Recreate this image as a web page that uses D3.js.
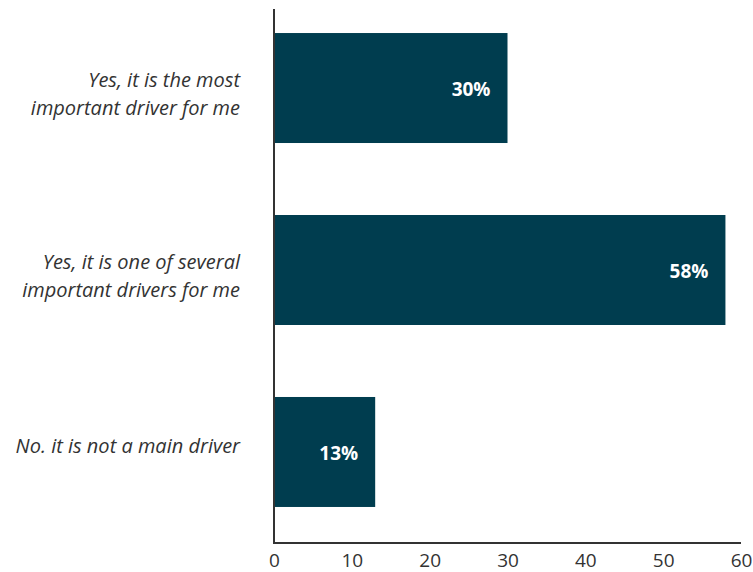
<!DOCTYPE html>
<html>
<head>
<meta charset="utf-8">
<script src="https://cdn.jsdelivr.net/npm/d3@7"></script>
<style>
body{margin:0;background:#fff;}
svg{display:block;}
</style>
</head>
<body>
<svg id="chart" width="753" height="572"></svg>
<script>
const categories = [
  ["Yes, it is the most", "important driver for me"],
  ["Yes, it is one of several", "important drivers for me"],
  ["No. it is not a main driver"]
];
const values = [30, 58, 13];
const valueLabels = ["30%", "58%", "13%"];
const xTicks = [0, 10, 20, 30, 40, 50, 60];

const svg = d3.select("#chart");
const font = "'Open Sans', 'Noto Sans', sans-serif";
const x = d3.scaleLinear().domain([0, 60]).range([274, 741]);
const y = d3.scaleBand().domain(d3.range(categories.length)).range([-3, 543]).paddingInner(0.3956).paddingOuter(0.198);

svg.selectAll("rect.bar").data(values).join("rect")
  .attr("class","bar")
  .attr("x", x(0)+1)
  .attr("y", (d,i)=>y(i))
  .attr("width", d=>x(d)-x(0)-1)
  .attr("height", y.bandwidth())
  .attr("fill", "#003d4f");

svg.selectAll("text.val").data(values).join("text")
  .attr("class","val")
  .attr("x", d=>x(d)-17)
  .attr("y", (d,i)=>y(i)+y.bandwidth()/2+8)
  .attr("text-anchor","end")
  .attr("fill","#fff")
  .attr("font-family", font)
  .attr("font-weight","bold")
  .attr("font-size","19px")
  .text((d,i)=>valueLabels[i]);

const cat = svg.selectAll("text.cat").data(categories).join("text")
  .attr("class","cat")
  .attr("text-anchor","end")
  .attr("fill","#333")
  .attr("font-family", font)
  .attr("font-style","italic")
  .attr("font-size","20px");
cat.each(function(lines,i){
  const c = y(i)+y.bandwidth()/2;
  const lh = 28;
  const start = lines.length > 1 ? c - 1 : c + 1;
  d3.select(this).selectAll("tspan").data(lines).join("tspan")
    .attr("x", 240)
    .attr("y", (d,j)=>start + j*lh)
    .text(d=>d);
});

const xAxis = d3.axisBottom(x).tickValues(xTicks).tickSize(0).tickPadding(0).tickFormat(d3.format("d"));
const gx = svg.append("g").attr("transform","translate(0,543)").call(xAxis);
gx.select(".domain").remove();
gx.selectAll("text").attr("dy", null).attr("y", 24).attr("font-family", font).attr("font-size","19px").attr("fill","#333");

svg.append("line").attr("x1",274).attr("x2",274).attr("y1",9).attr("y2",544)
  .attr("stroke","#333").attr("stroke-width",2);
svg.append("line").attr("x1",273).attr("x2",741).attr("y1",543).attr("y2",543)
  .attr("stroke","#333").attr("stroke-width",2);
</script>
</body>
</html>
